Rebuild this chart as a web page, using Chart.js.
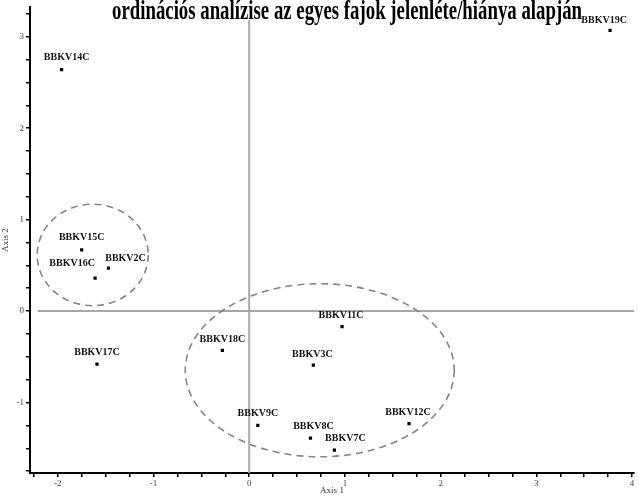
<!DOCTYPE html>
<html>
<head>
<meta charset="utf-8">
<script src="https://cdn.jsdelivr.net/npm/chart.js@4"></script>
<style>
html,body{margin:0;padding:0;background:#fff;}
#wrap{width:639px;height:496px;}
</style>
</head>
<body>
<div id="wrap"><canvas id="c" width="639" height="496"></canvas></div>
<script>
// ---- data ----
const titleText = 'ordinációs analízise az egyes fajok jelenléte/hiánya alapján';
const categories = ['BBKV19C','BBKV14C','BBKV15C','BBKV2C','BBKV16C','BBKV17C','BBKV11C','BBKV18C','BBKV3C','BBKV9C','BBKV12C','BBKV8C','BBKV7C'];
const axis1Values = [3.77,-1.96,-1.75,-1.47,-1.61,-1.59,0.97,-0.28,0.67,0.09,1.67,0.64,0.89];
const axis2Values = [3.07,2.64,0.67,0.47,0.36,-0.58,-0.17,-0.43,-0.59,-1.25,-1.23,-1.39,-1.52];
const xTickLabels = ['-2','-1','0','1','2','3','4'];
const yTickLabels = ['-1','0','1','2','3'];
// group ellipses (data units)
const ellipseCx = [-1.635, 0.737];
const ellipseCy = [0.614, -0.647];
const ellipseRx = [0.58, 1.405];
const ellipseRy = [0.555, 0.946];
// zero reference line extents (data units)
const hLineFrom = -2.21;
const vLineTo = 3.18;

// ---- styling (label offsets in px) ----
const labelDx = [-6,5,0,17,-23,0,-1,0,-1,0,-1,3,11];
const labelDy = [-10,-12,-12,-10,-15,-12,-11,-11,-11,-12,-11,-12,-12];
const titleBox = {cx:347, baseline:19, width:470, size:27};

const pts = axis1Values.map((v,i)=>({x:v,y:axis2Values[i]}));

const overlay = {
  id:'overlay',
  beforeDatasetsDraw(chart){
    const {ctx, scales:{x,y}, chartArea} = chart;
    ctx.save();
    ctx.strokeStyle = '#a8a8a8';
    ctx.lineWidth = 2;
    ctx.beginPath();
    ctx.moveTo(x.getPixelForValue(hLineFrom), y.getPixelForValue(0));
    ctx.lineTo(chartArea.right, y.getPixelForValue(0));
    ctx.moveTo(x.getPixelForValue(0), y.getPixelForValue(vLineTo));
    ctx.lineTo(x.getPixelForValue(0), chartArea.bottom);
    ctx.stroke();
    ctx.strokeStyle = '#858585';
    ctx.lineWidth = 1.6;
    ctx.setLineDash([7,5]);
    for (let i=0;i<ellipseCx.length;i++){
      const cx = x.getPixelForValue(ellipseCx[i]);
      const cy = y.getPixelForValue(ellipseCy[i]);
      const rx = x.getPixelForValue(ellipseCx[i]+ellipseRx[i]) - cx;
      const ry = cy - y.getPixelForValue(ellipseCy[i]+ellipseRy[i]);
      ctx.beginPath();
      ctx.ellipse(cx,cy,rx,ry,0,0,Math.PI*2);
      ctx.stroke();
    }
    ctx.restore();
  },
  afterDatasetsDraw(chart){
    const {ctx} = chart;
    const meta = chart.getDatasetMeta(0);
    ctx.save();
    ctx.font = 'bold 10px "Liberation Serif"';
    ctx.fillStyle = '#111';
    ctx.textAlign = 'center';
    ctx.textBaseline = 'middle';
    meta.data.forEach((el,i)=>{
      ctx.fillText(categories[i], el.x + labelDx[i], el.y + labelDy[i]);
    });
    ctx.font = 'bold ' + titleBox.size + 'px "Liberation Serif"';
    ctx.fillStyle = '#000';
    ctx.textBaseline = 'alphabetic';
    const w = ctx.measureText(titleText).width;
    const sx = titleBox.width / w;
    ctx.translate(titleBox.cx, titleBox.baseline);
    ctx.scale(sx, 1);
    ctx.fillText(titleText, 0, 0);
    ctx.restore();
  }
};

function quarterTicks(scale){
  const t = [];
  const start = Math.ceil(scale.min/0.25 - 1e-9)*0.25;
  for (let v=start; v<=scale.max+1e-9; v+=0.25) t.push({value: Math.round(v*100)/100});
  scale.ticks = t;
}

new Chart(document.getElementById('c'), {
  type:'scatter',
  data:{
    datasets:[{
      data: pts,
      pointStyle:'rect',
      pointRadius:2.3,
      pointBackgroundColor:'#000',
      pointBorderColor:'#000',
      pointBorderWidth:0
    }]
  },
  options:{
    responsive:false,
    animation:false,
    events:[],
    layout:{padding:{left:0,right:5,top:5,bottom:0}},
    plugins:{legend:{display:false},tooltip:{enabled:false},title:{display:false}},
    scales:{
      x:{
        type:'linear', min:-2.29, max:4.02,
        afterBuildTicks: quarterTicks,
        afterFit(s){ s.height = 23; },
        border:{display:true,color:'#000',width:2},
        grid:{drawOnChartArea:false, drawTicks:true, tickLength:4, color:'#000', lineWidth:1.5},
        ticks:{
          autoSkip:false, maxRotation:0, padding:1,
          color:'#444', font:{family:'"Liberation Serif"', size:9},
          callback(v){ const s = String(v); return xTickLabels.includes(s) ? s : ''; }
        },
        title:{display:true, text:'Axis 1', color:'#333', font:{family:'"Liberation Serif"', size:9}, padding:{top:0,bottom:0}}
      },
      y:{
        type:'linear', min:-1.77, max:3.32,
        afterBuildTicks: quarterTicks,
        afterFit(s){ s.width = 30; },
        border:{display:true,color:'#000',width:2},
        grid:{drawOnChartArea:false, drawTicks:true, tickLength:4, color:'#000', lineWidth:1.5},
        ticks:{
          autoSkip:false, padding:2,
          color:'#444', font:{family:'"Liberation Serif"', size:9},
          callback(v){ const s = String(v); return yTickLabels.includes(s) ? s : ''; }
        },
        title:{display:true, text:'Axis 2', color:'#333', font:{family:'"Liberation Serif"', size:9}, padding:{top:0,bottom:0}}
      }
    }
  },
  plugins:[overlay]
});
</script>
</body>
</html>
